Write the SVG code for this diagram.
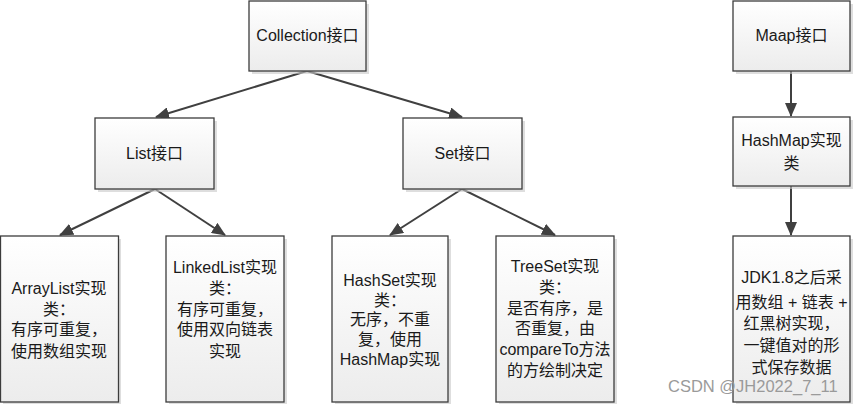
<svg xmlns="http://www.w3.org/2000/svg" width="853" height="404" viewBox="0 0 853 404">
<defs>
<linearGradient id="g" x1="0" y1="0" x2="0" y2="1">
<stop offset="0" stop-color="#ffffff"/>
<stop offset="1" stop-color="#ececec"/>
</linearGradient>
<marker id="ah" markerUnits="userSpaceOnUse" markerWidth="14" markerHeight="12" refX="13" refY="6" orient="auto">
<path d="M0,0 L14,6 L0,12 Z" fill="#404040"/>
</marker>
</defs>
<style>
.box{fill:url(#g);stroke:#3c3c3c;stroke-width:1.3}
.sh{fill:#c8c8c8;opacity:0.6}
.t{font-family:"Liberation Sans","Noto Sans CJK SC",sans-serif;font-size:16px;fill:#1a1a1a;text-anchor:middle}
.c{stroke:#404040;stroke-width:2;fill:none;marker-end:url(#ah)}
.wm{font-family:"Liberation Sans",sans-serif;font-size:16.5px;fill:#9a9a9a}
</style>
<rect width="853" height="404" fill="#ffffff"/>
<g id="connectors">
<line class="c" x1="307" y1="71" x2="156" y2="117"/>
<line class="c" x1="307" y1="71" x2="462" y2="117"/>
<line class="c" x1="155" y1="189" x2="60" y2="235"/>
<line class="c" x1="155" y1="189" x2="225" y2="235"/>
<line class="c" x1="462" y1="189" x2="390" y2="235"/>
<line class="c" x1="462" y1="189" x2="555" y2="235"/>
<line class="c" x1="791" y1="71" x2="791" y2="116"/>
<line class="c" x1="791" y1="186" x2="791" y2="235"/>
</g>
<g id="collection">
<rect class="sh" x="252" y="4" width="117" height="70"/>
<rect class="box" x="249" y="1" width="117" height="70"/>
<text class="t" x="307.5" y="41">Collection接口</text>
</g>
<g id="list">
<rect class="sh" x="98" y="121" width="119" height="71"/>
<rect class="box" x="95" y="118" width="119" height="71"/>
<text class="t" x="154.5" y="159">List接口</text>
</g>
<g id="set">
<rect class="sh" x="406" y="121" width="119" height="71"/>
<rect class="box" x="403" y="118" width="119" height="71"/>
<text class="t" x="462.5" y="159">Set接口</text>
</g>
<g id="arraylist">
<rect class="sh" x="3" y="239" width="118" height="166"/>
<rect class="box" x="0.5" y="236" width="118" height="166"/>
<text class="t" x="59"><tspan x="59" y="294">ArrayList实现</tspan><tspan x="59" y="315">类：</tspan><tspan x="59" y="335">有序可重复，</tspan><tspan x="59" y="357">使用数组实现</tspan></text>
</g>
<g id="linkedlist">
<rect class="sh" x="169" y="239" width="118" height="166"/>
<rect class="box" x="166" y="236" width="118" height="166"/>
<text class="t" x="225"><tspan x="225" y="273">LinkedList实现</tspan><tspan x="225" y="294">类：</tspan><tspan x="225" y="315">有序可重复，</tspan><tspan x="225" y="335">使用双向链表</tspan><tspan x="225" y="357">实现</tspan></text>
</g>
<g id="hashset">
<rect class="sh" x="335" y="239" width="116" height="166"/>
<rect class="box" x="332" y="236" width="116" height="166"/>
<text class="t" x="390"><tspan x="390" y="286">HashSet实现</tspan><tspan x="390" y="306">类：</tspan><tspan x="390" y="325">无序，不重</tspan><tspan x="390" y="345">复，使用</tspan><tspan x="390" y="365">HashMap实现</tspan></text>
</g>
<g id="treeset">
<rect class="sh" x="499" y="239" width="118" height="166"/>
<rect class="box" x="496" y="236" width="118" height="166"/>
<text class="t" x="555"><tspan x="555" y="272">TreeSet实现</tspan><tspan x="555" y="293">类：</tspan><tspan x="555" y="314">是否有序，是</tspan><tspan x="555" y="334">否重复，由</tspan><tspan x="555" y="355">compareTo方法</tspan><tspan x="555" y="376">的方绘制决定</tspan></text>
</g>
<g id="maap">
<rect class="sh" x="736" y="4" width="117" height="70"/>
<rect class="box" x="733" y="1" width="117" height="70"/>
<text class="t" x="791.5" y="41">Maap接口</text>
</g>
<g id="hashmap">
<rect class="sh" x="736" y="120" width="117" height="69"/>
<rect class="box" x="733" y="117" width="117" height="69"/>
<text class="t" x="791.5"><tspan x="791.5" y="146">HashMap实现</tspan><tspan x="791.5" y="169">类</tspan></text>
</g>
<g id="jdk">
<rect class="sh" x="736" y="239" width="117" height="166"/>
<rect class="box" x="733" y="236" width="117" height="166"/>
<text class="t" x="791.5"><tspan x="791.5" y="283">JDK1.8之后采</tspan><tspan x="791.5" y="308">用数组 + 链表 +</tspan><tspan x="791.5" y="329">红黑树实现，</tspan><tspan x="791.5" y="351">一键值对的形</tspan><tspan x="791.5" y="373">式保存数据</tspan></text>
</g>
<text class="wm" x="668" y="392">CSDN @JH2022_7_11</text>
</svg>
